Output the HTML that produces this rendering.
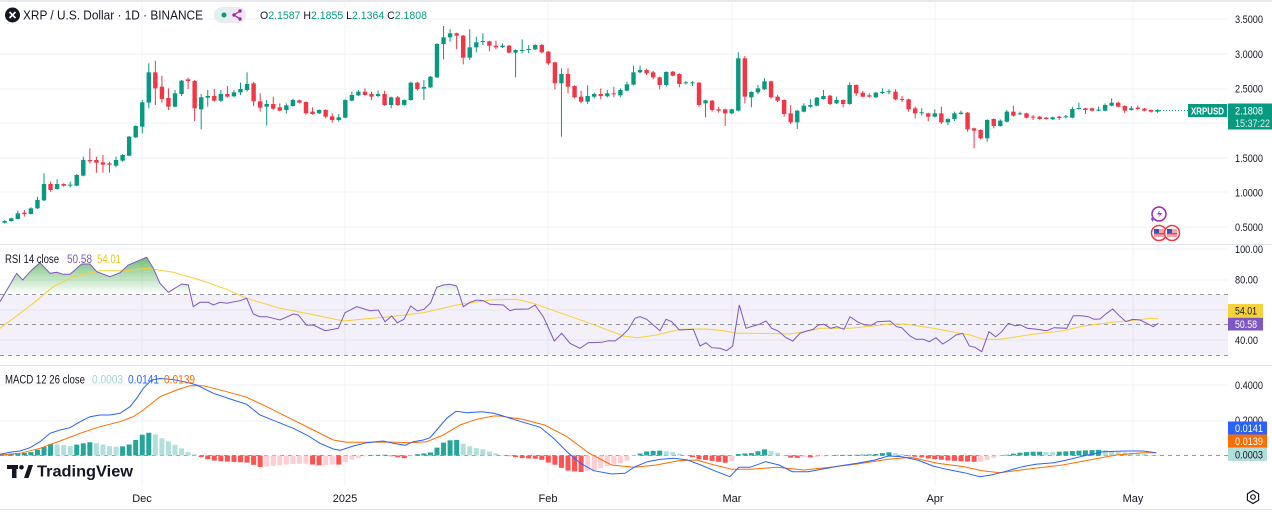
<!DOCTYPE html>
<html><head><meta charset="utf-8">
<style>
html,body{margin:0;padding:0;background:#fff;width:1272px;height:513px;overflow:hidden;}
svg{display:block;font-family:"Liberation Sans",sans-serif;}
</style></head><body>
<svg id="s" width="1272" height="513" viewBox="0 0 1272 513" xmlns="http://www.w3.org/2000/svg">
<defs>
<linearGradient id="rg" x1="0" y1="255" x2="0" y2="294.5" gradientUnits="userSpaceOnUse">
<stop offset="0" stop-color="#4caf50" stop-opacity="0.85"/>
<stop offset="1" stop-color="#4caf50" stop-opacity="0"/>
</linearGradient>
<linearGradient id="pill" x1="0" y1="0" x2="1" y2="0">
<stop offset="0" stop-color="#dff3ee"/><stop offset="1" stop-color="#f6e3f2"/>
</linearGradient>
<clipPath id="above70"><rect x="0" y="240" width="1228" height="54.5"/></clipPath>
</defs>
<rect x="0" y="0" width="1272" height="513" fill="#fff"/>
<rect x="0" y="0" width="1272" height="2" fill="#e6e8ec"/>
<g id="grid"></g>
<!-- RSI band -->
<rect x="0" y="294.5" width="1228" height="60.5" fill="#7e57c2" fill-opacity="0.09"/>
<g stroke="#9598a1" stroke-width="1" stroke-dasharray="4 4" fill="none">
<line x1="0" x2="1228" y1="294.5" y2="294.5"/>
<line x1="0" x2="1228" y1="324.5" y2="324.5"/>
<line x1="0" x2="1228" y1="355.5" y2="355.5"/>
<line x1="0" x2="1228" y1="455.5" y2="455.5"/>
</g>
<g id="dyn"></g>
<!-- separators -->
<rect x="0" y="244" width="1272" height="1" fill="#e0e3eb"/>
<rect x="0" y="365" width="1272" height="1" fill="#e0e3eb"/>
<rect x="0" y="509" width="1272" height="1" fill="#e0e3eb"/>

<!-- current price dotted line -->
<line x1="1160" x2="1188" y1="110.5" y2="110.5" stroke="#089981" stroke-width="1" stroke-dasharray="1 2"/>

<!-- header -->
<circle cx="12.5" cy="15" r="7.5" fill="#131722"/>
<path d="M9.5 12 L15.5 18 M15.5 12 L9.5 18" stroke="#fff" stroke-width="1.6"/>
<text x="23" y="19.5" font-size="13" fill="#131722" textLength="180" lengthAdjust="spacingAndGlyphs">XRP / U.S. Dollar · 1D · BINANCE</text>
<rect x="214" y="7" width="32" height="16" rx="8" fill="url(#pill)"/>
<circle cx="224" cy="15" r="2.5" fill="#089981"/>
<polyline points="240,11 234,15 240,19" fill="none" stroke="#9c27b0" stroke-width="1.3"/>
<circle cx="240" cy="11" r="1.7" fill="#9c27b0"/><circle cx="234" cy="15" r="1.7" fill="#9c27b0"/><circle cx="240" cy="19" r="1.7" fill="#9c27b0"/>
<text x="260" y="19" font-size="11" fill="#131722" textLength="167" lengthAdjust="spacingAndGlyphs">O<tspan fill="#089981">2.1587</tspan> H<tspan fill="#089981">2.1855</tspan> L<tspan fill="#089981">2.1364</tspan> C<tspan fill="#089981">2.1808</tspan></text>

<!-- price axis -->
<g font-size="11" fill="#131722">
<text x="1235" y="23" textLength="28" lengthAdjust="spacingAndGlyphs">3.5000</text>
<text x="1235" y="58" textLength="28" lengthAdjust="spacingAndGlyphs">3.0000</text>
<text x="1235" y="92.5" textLength="28" lengthAdjust="spacingAndGlyphs">2.5000</text>
<text x="1235" y="162" textLength="28" lengthAdjust="spacingAndGlyphs">1.5000</text>
<text x="1235" y="196.5" textLength="28" lengthAdjust="spacingAndGlyphs">1.0000</text>
<text x="1235" y="231" textLength="28" lengthAdjust="spacingAndGlyphs">0.5000</text>
</g>
<rect x="1188" y="104" width="39" height="13" fill="#089981"/>
<text x="1207.5" y="114.3" font-size="10" font-weight="bold" fill="#fff" text-anchor="middle" textLength="33" lengthAdjust="spacingAndGlyphs">XRPUSD</text>
<rect x="1228" y="103.5" width="44" height="26" fill="#089981"/>
<text x="1235" y="114.5" font-size="11" fill="#fff" textLength="28" lengthAdjust="spacingAndGlyphs">2.1808</text>
<text x="1235" y="127" font-size="11" fill="#fff" fill-opacity="0.85" textLength="35" lengthAdjust="spacingAndGlyphs">15:37:22</text>

<!-- icons -->
<circle cx="1159" cy="214" r="7" fill="#fff" stroke="#9c27b0" stroke-width="1.5"/>
<path d="M1160.5 209.5 L1157 214.5 L1160 214.5 L1158 218.5 L1162 213 L1159 213 Z" fill="#9c27b0"/>
<path d="M1151 219 l1.5 -3 l1.5 3 l-1.5 3 z" fill="#7c4dff"/>
<g>
<circle cx="1159" cy="233" r="7.5" fill="#fff" stroke="#f23645" stroke-width="1.5"/>
<rect x="1154" y="229" width="10" height="8" fill="#f7a4ab"/>
<rect x="1154" y="229" width="5" height="4" fill="#3f51b5"/>
<rect x="1154" y="233" width="10" height="1.3" fill="#f23645"/>
<circle cx="1172" cy="233" r="7.5" fill="#fff" stroke="#f23645" stroke-width="1.5"/>
<rect x="1167" y="229" width="10" height="8" fill="#f7a4ab"/>
<rect x="1167" y="229" width="5" height="4" fill="#3f51b5"/>
<rect x="1167" y="233" width="10" height="1.3" fill="#f23645"/>
</g>

<!-- RSI legend & axis -->
<text x="5" y="263" font-size="11.5" fill="#131722" textLength="54" lengthAdjust="spacingAndGlyphs">RSI 14 close</text>
<text x="67" y="263" font-size="11.5" fill="#7e57c2" textLength="25" lengthAdjust="spacingAndGlyphs">50.58</text>
<text x="97" y="263" font-size="11.5" fill="#f0c419" textLength="24" lengthAdjust="spacingAndGlyphs">54.01</text>
<g font-size="11" fill="#131722">
<text x="1235" y="253" textLength="28" lengthAdjust="spacingAndGlyphs">100.00</text>
<text x="1235" y="283.5" textLength="23" lengthAdjust="spacingAndGlyphs">80.00</text>
<text x="1235" y="344" textLength="23" lengthAdjust="spacingAndGlyphs">40.00</text>
</g>
<rect x="1228" y="304" width="35" height="13" fill="#f7d23f"/>
<text x="1235" y="314.5" font-size="11" fill="#131722" textLength="22" lengthAdjust="spacingAndGlyphs">54.01</text>
<rect x="1228" y="317.5" width="35" height="13" fill="#7e57c2"/>
<text x="1235" y="328" font-size="11" fill="#fff" textLength="22" lengthAdjust="spacingAndGlyphs">50.58</text>

<!-- MACD legend & axis -->
<text x="5" y="383.5" font-size="11.5" fill="#131722" textLength="80" lengthAdjust="spacingAndGlyphs">MACD 12 26 close</text>
<text x="92" y="383.5" font-size="11.5" fill="#9fd6cf" textLength="31" lengthAdjust="spacingAndGlyphs">0.0003</text>
<text x="128" y="383.5" font-size="11.5" fill="#2962ff" textLength="31" lengthAdjust="spacingAndGlyphs">0.0141</text>
<text x="164" y="383.5" font-size="11.5" fill="#ff6d00" textLength="31" lengthAdjust="spacingAndGlyphs">0.0139</text>
<g font-size="11" fill="#131722">
<text x="1235" y="389" textLength="28" lengthAdjust="spacingAndGlyphs">0.4000</text>
<text x="1235" y="424" textLength="28" lengthAdjust="spacingAndGlyphs">0.2000</text>
</g>
<rect x="1228" y="421.5" width="39" height="13" fill="#2962ff"/>
<text x="1235" y="432" font-size="11" fill="#fff" textLength="28" lengthAdjust="spacingAndGlyphs">0.0141</text>
<rect x="1228" y="434.5" width="39" height="13" fill="#ff6d00"/>
<text x="1235" y="445" font-size="11" fill="#fff" textLength="28" lengthAdjust="spacingAndGlyphs">0.0139</text>
<rect x="1228" y="447.5" width="39" height="13.5" fill="#b2dfdb"/>
<text x="1235" y="458.3" font-size="11" fill="#131722" textLength="28" lengthAdjust="spacingAndGlyphs">0.0003</text>

<!-- TradingView logo -->
<g fill="#131722">
<rect x="7" y="465" width="11" height="4"/>
<rect x="12" y="465" width="4.5" height="13"/>
<circle cx="21.5" cy="467.3" r="2.3"/>
<polygon points="24,478 28.5,465 33,465 28.5,478"/>
<text x="37" y="476.5" font-size="16" font-weight="bold" textLength="96" lengthAdjust="spacingAndGlyphs">TradingView</text>
</g>

<!-- time axis -->
<g font-size="11" fill="#131722" text-anchor="middle">
<text x="142" y="502">Dec</text>
<text x="345" y="502">2025</text>
<text x="548" y="502">Feb</text>
<text x="732" y="502">Mar</text>
<text x="935" y="502">Apr</text>
<text x="1133" y="502">May</text>
</g>
<polygon points="1253,490.5 1258.6,493.8 1258.6,500.2 1253,503.5 1247.4,500.2 1247.4,493.8" fill="none" stroke="#131722" stroke-width="1.2"/>
<circle cx="1253" cy="497" r="2.3" fill="none" stroke="#131722" stroke-width="1.2"/>
</svg>
<script>
(function(){
var grid='';
[19.4,54,88.6,123.2,157.8,192.4,227,249,279.5,310,340,385,420.5].forEach(function(y){grid+='<rect x="0" y="'+(Math.round(y)-0.5)+'" width="1228" height="1" fill="#f0f3fa"/>';});
[142,345,548,732,935,1133].forEach(function(x){grid+='<rect x="'+(x-0.5)+'" y="2" width="1" height="484" fill="#f0f3fa"/>';});
document.getElementById('grid').innerHTML=grid;

var A="g 603 608 600 610,g 595 603 593 605,g 580 597 572 598,r 578 582 570 590,g 565 582 562 583,g 540 565 530 567,g 492 541 460 543,r 492 510 485 515,g 492 507 478 509,r 492 497 490 500,g 494 497 485 502,g 465 497 462 499,g 420 467 410 469,r 420 424 385 430,r 420 428 410 458,r 427 434 405 458,r 430 434 425 458,g 420 437 410 442,g 405 422 402 425,g 350 407 348 409,g 318 352 316 354,g 247 320 240 340,g 157 248 130 265,r 157 205 122 255,r 200 237 167 248,r 234 260 205 270,g 220 260 210 262,g 182 222 180 228,r 178 183 173 207,r 183 265 180 303,g 232 268 222 328,g 228 233 210 260,r 228 242 207 245,g 222 242 210 246,r 222 230 198 233,g 217 229 210 232,g 207 217 188 225,g 192 210 157 215,r 190 244 186 258,r 244 263 220 275,g 252 260 240 317,r 252 266 230 270,r 262 272 250 274,g 256 270 250 281,g 240 258 236 260,r 241 248 239 250,r 246 280 244 284,r 275 282 262 284,g 270 280 268 282,r 270 290 268 295,r 289 300 280 308,g 292 300 282 305,g 240 293 238 295,g 225 242 215 244,g 215 226 210 228,r 215 225 205 227,r 222 230 215 240,g 222 228 212 232,r 222 255 212 258";
var B="g 232 255 230 265,r 232 255 228 258,g 240 255 238 257,g 188 240 185 242,r 188 207 186 212,g 201 206 180 240,g 170 202 168 204,g 72 172 70 174,g 52 72 18 118,g 40 52 28 65,r 40 47 38 88,r 47 113 45 133,g 82 113 28 120,g 67 82 50 97,g 63 66 40 75,r 64 77 62 94,r 77 82 62 88,g 77 81 70 84,r 77 98 75 100,g 90 98 88 172,g 90 93 58 100,g 87 90 75 100,g 75 88 73 90,r 75 97 72 100,r 95 130 93 135,r 127 190 125 208,g 162 190 145 350,r 162 200 145 220,r 198 232 196 235,r 230 245 212 250,g 228 245 196 252,g 222 230 218 235,r 222 228 205 238,g 220 229 210 232,r 220 223 200 232,g 210 226 205 232,g 193 212 185 214,g 157 194 137 196,g 150 157 137 160,r 150 160 146 165,r 157 172 152 178,r 172 195 170 208,g 156 195 154 200,r 155 167 153 169,r 162 192 160 202,g 187 190 183 193,g 187 190 183 198,r 188 255 186 260,g 241 250 239 292,r 242 270 240 275,r 268 272 260 278,r 268 280 266 318,g 268 280 266 282,g 115 272 97 274,r 115 230 108 250,g 216 232 214 262,g 205 217 195 222,g 184 208 175 210,r 184 232 182 236,r 230 242 225 246,r 240 282 238 290";
var C="r 160 187 135 192,g 152 187 150 207,g 137 155 130 157,g 135 140 118 143,g 113 137 111 139,g 108 117 90 119,r 107 132 105 135,g 120 130 110 132,r 120 132 118 142,g 75 132 67 134,r 75 100 73 108,r 98 110 93 112,r 106 110 100 113,g 98 112 96 114,g 96 99 85 102,g 94 97 88 103,r 95 118 88 120,r 117 120 108 126,r 118 148 116 155,r 145 160 140 175,g 157 160 145 167,r 160 170 158 183,g 160 170 148 173,r 160 187 140 192,g 177 187 175 195,g 160 177 155 183,g 158 162 152 164,r 158 208 156 215,r 205 212 203 265,r 210 235 208 238,g 180 235 178 245,r 177 198 175 205,g 182 198 178 200,g 155 185 150 187,r 155 167 137 170,g 160 163 155 165,r 160 173 158 175,r 170 173 165 180,r 170 177 168 179,r 173 177 171 179,g 172 178 170 180,r 170 174 168 180,g 169 172 165 175,g 147 173 140 175,g 144 147 128 148,r 145 150 143 162,r 145 152 143 154,g 149 152 140 153,g 135 152 130 154,g 128 137 115 139,r 128 140 125 142,r 138 152 136 160,g 145 150 138 152,r 143 147 137 150,r 146 152 144 154,r 150 155 148 158,g 150 155 148 158";
function parse(s,off){return s.split(',').map(function(t){var p=t.trim().split(/\s+/);return [p[0],off+p[1]/3,off+p[2]/3,off+p[3]/3,off+p[4]/3];});}
var D=parse(A,20).concat(parse(B,20)).concat(parse(C,60));
function X(i){return 4.7+i*6.55;}
var out='';

// RSI
var R=[[0,301.7],[16.7,273.3],[22.7,280],[30,271.7],[40,262.7],[50,273.3],[56.7,272.3],[63.3,274.3],[70,274.3],[81.7,264],[90,264],[96.7,271.7],[110,276.7],[120,272.7],[128.3,265],[146.7,257.3],[153.3,268.3],[160,283.3],[168.3,292.3],[181.7,284],[188.3,285],[193.3,306.7],[200,302.3],[208.3,302.3],[213.3,305],[220,302.3],[226.7,303.3],[240,300.7],[246.7,298.3],[253.3,314],[260,316.7],[266.7,316.7],[280,320],[293.3,314],[298.3,315],[306.7,325.3],[313.3,325],[325,330.7],[333.3,329.3],[338.3,328.3],[345,312.7],[356.7,306.7],[370,310.7],[378.3,310],[385,321.7],[391.7,316],[397.3,322.7],[404,319.3],[410.7,306],[417.3,311],[424,309.3],[430.7,302.7],[436.7,287.3],[443.3,285],[450,284.3],[456.7,286],[463.3,306.7],[470,302.3],[476.7,300],[483.3,300.7],[490,304.3],[503.3,305],[510,310.7],[515,309.3],[528.3,309],[535,305],[543.3,316.7],[554.3,341],[561.7,333.3],[570,343.3],[580,348.3],[588.3,342.7],[601.7,342.3],[608.3,340.7],[615,341],[621.7,336],[628.3,329.3],[635,318.3],[640,316.7],[646.7,319.3],[653.3,325],[660,330.7],[666,319.3],[671.7,321.7],[679.3,330],[693.3,329.3],[700,346],[706,342.7],[711.7,347.7],[720,348.3],[726.7,350.7],[732.7,346],[739.3,305],[746,328.3],[753.3,326],[759.3,324.3],[766,321],[771.7,328.3],[778.3,331],[786,337.7],[792.7,341],[800,333.3],[806.7,331],[813.3,329.3],[818.3,325],[824,324.3],[830.7,328.3],[836.7,326.7],[844,329.3],[850,316.7],[858.3,322.3],[865,325],[871.7,325],[877.3,321.7],[890,321],[896.7,326.7],[901.7,327.7],[910,336],[916,339.3],[923.3,339.3],[929.3,341.7],[936,337.7],[942.7,344],[949.3,340],[956,335],[962.7,333.3],[969.3,346],[975,347.3],[981.7,351.7],[989,331.7],[995.7,336.7],[1001.7,331.7],[1008.3,323.3],[1015,325.7],[1020.7,325],[1027.3,328.3],[1035,329],[1046.7,330.7],[1054,327.7],[1066.7,328.3],[1073.3,315.7],[1081.7,315.7],[1088.3,316.7],[1094,319.3],[1100,319],[1106.7,313.3],[1112.7,309],[1119.3,315.7],[1126,321.7],[1132.7,319.3],[1140,320],[1146.7,323.3],[1153.3,326.7],[1158.3,323.3]];
var Y=[[0,328.3],[13.3,318.3],[33.3,303.3],[53.3,286.7],[73.3,276.7],[100,270.7],[126.7,270.7],[146.7,268.3],[173.3,272.3],[200,280],[226.7,289.3],[246.7,298.3],[280,308.3],[310,314],[343.3,321],[366.7,318.7],[390,316.7],[423.3,312.7],[456.7,305],[490,300],[516.7,299.3],[533.3,303.3],[556.7,311.7],[590,323.3],[623.3,336],[636.7,337.7],[656.7,335],[680,329.3],[706.7,329],[723.3,330.7],[736.7,333.3],[756.7,333.3],[790,334],[810,330.7],[820,328.3],[850,328.3],[873.3,326],[890,324],[906.7,324.3],[933.3,328.3],[956.7,332.7],[970,335],[983.3,339.3],[1000,339.3],[1033.3,334.3],[1063.3,330.7],[1083.3,326],[1116.7,321.7],[1136.7,320],[1150,318.3],[1158.3,318.7]];
function pl(p){return p.map(function(q){return q[0]+','+q[1];}).join(' ');}
var fp='M'+R.map(function(q){return q[0]+' '+q[1];}).join(' L')+' L'+R[R.length-1][0]+' 294.5 L0 294.5 Z';
out+='<path d="'+fp+'" fill="url(#rg)" clip-path="url(#above70)"/>';
out+='<polyline points="'+pl(Y)+'" fill="none" stroke="#f7d038" stroke-width="1"/>';
out+='<polyline points="'+pl(R)+'" fill="none" stroke="#7e57c2" stroke-width="1"/>';

// MACD
var BL=[[0,454.3],[10,452.3],[20,451],[30,447.7],[40,441.7],[50,433.3],[60,430],[70,427.7],[80,421.7],[90,416.7],[100,415],[110,415],[120,413.3],[130,406.7],[136.7,398.3],[143.3,388.3],[151.7,380],[160,378.5],[173,379.5],[186.7,382.3],[196.7,385],[213.3,393.3],[233.3,400],[246.7,404.3],[260,415],[276.7,421.7],[293.3,428.3],[306.7,435],[320,443.3],[333.3,449],[340,450.3],[353.3,446],[366.7,442.7],[383.3,441],[393.3,443.3],[405,445.3],[413.3,441.7],[423.3,440],[430,437.7],[436.7,430],[446.7,418.3],[456,411.3],[466.7,412.7],[481.7,411.7],[493.3,413.3],[500,415],[513.4,419.3],[526.8,423.3],[540.2,427.3],[553.6,438.3],[567,451.7],[580.4,463.3],[593.8,470.7],[611.6,474],[625,473.3],[633.9,467.3],[647.3,461.7],[660.7,459.3],[674.1,458.3],[687.5,460],[700.9,465],[714.3,470.7],[729.9,476.7],[738.8,467.3],[750,467.3],[765.6,461.7],[779,465],[792.4,471.7],[808,471.7],[821.4,469.3],[839.3,466],[857.1,463.3],[875,460],[888.4,456],[901.8,456.7],[917.4,460],[933,466],[946.4,469.3],[964.3,472.7],[979.9,476.7],[991.1,475],[1004.5,471.7],[1022.3,466.7],[1035.7,464.3],[1053.6,462.7],[1067,460],[1080.4,456.7],[1102.7,451.7],[1125,451],[1142.9,451],[1156.3,452.7]];
var OR=[[0,455],[20,453.3],[40,448.3],[60,441],[80,433.3],[100,426.7],[120,421.7],[133.3,416.7],[143.3,410],[160,396.7],[176.7,390],[190,385.7],[203.3,385.7],[226.7,391.7],[246.7,397.3],[266.7,406.7],[290,418.3],[313.3,430],[333.3,440],[346.7,442.3],[366.7,442.3],[390,442],[410,442.7],[426.7,441.7],[443.3,435],[460,425],[476.7,419.3],[493.3,416],[500,416],[522.3,419.3],[544.6,425],[567,436.7],[589.3,453.3],[611.6,465],[633.9,467.3],[656.3,465],[678.6,460.7],[696.4,460],[714.3,465],[732.1,469.3],[750,469.3],[776.8,467.3],[803.6,470],[830.4,467.3],[857.1,464],[888.4,459.3],[910.7,457.3],[937.5,463.3],[964.3,466.7],[982.1,470.7],[1000,472.7],[1026.8,469.3],[1062.5,465],[1089.3,460],[1116.1,455],[1142.9,452.7],[1156.3,452.7]];
function interp(p,x){if(x<=p[0][0])return p[0][1];for(var i=1;i<p.length;i++){if(x<=p[i][0]){var a=p[i-1],b=p[i];return a[1]+(b[1]-a[1])*(x-a[0])/(b[0]-a[0]);}}return p[p.length-1][1];}
var Z=455.5,prev=0;
for(var i=0;i<D.length;i++){var x=X(i);var d=interp(OR,x)-interp(BL,x);var col;
 if(d>=0)col=(d>=prev?'#26a69a':'#b2dfdb');else col=(d<=prev?'#ff5252':'#ffcdd2');
 var h=Math.max(Math.abs(d),0.6);var y=d>=0?Z-h:Z;
 out+='<rect x="'+(x-2.5).toFixed(2)+'" y="'+y.toFixed(2)+'" width="5" height="'+h.toFixed(2)+'" fill="'+col+'"/>';prev=d;}
out+='<polyline points="'+pl(OR)+'" fill="none" stroke="#ff6d00" stroke-width="1"/>';
out+='<polyline points="'+pl(BL)+'" fill="none" stroke="#2962ff" stroke-width="1"/>';

// candles
for(var i=0;i<D.length;i++){var c=D[i];var x=X(i);var col=c[0]=='g'?'#089981':'#f23645';
 out+='<rect x="'+(x-0.5).toFixed(2)+'" y="'+c[3].toFixed(2)+'" width="1" height="'+Math.max(c[4]-c[3],1).toFixed(2)+'" fill="'+col+'"/>';
 out+='<rect x="'+(x-2.2).toFixed(2)+'" y="'+c[1].toFixed(2)+'" width="4.4" height="'+Math.max(c[2]-c[1],1).toFixed(2)+'" fill="'+col+'"/>';}
document.getElementById('dyn').innerHTML=out;
})();
</script>
</body></html>
